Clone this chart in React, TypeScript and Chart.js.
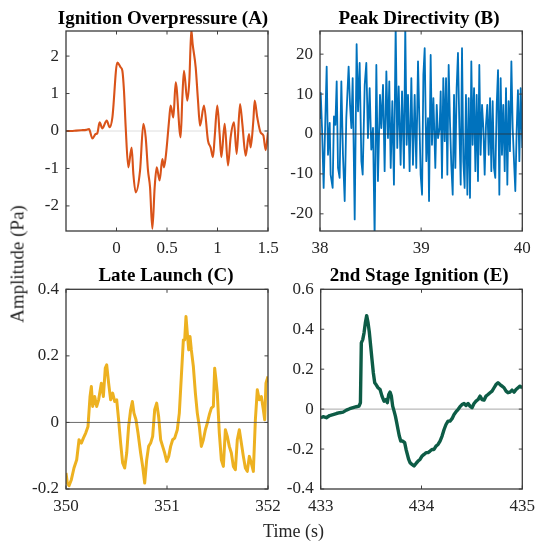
import React, { useEffect, useRef } from 'react';
import { Chart, registerables } from 'chart.js';

Chart.register(...registerables);

const FONT = "'Liberation Serif', 'Times New Roman', Times, serif";

// ---------- Panel A: Ignition Overpressure ----------
const timeA = [-0.5, -0.45, -0.4, -0.35, -0.3, -0.272, -0.239, -0.206, -0.19, -0.167, -0.14, -0.097, -0.068, -0.041, 0.008, 0.041, 0.058, 0.074, 0.091, 0.117, 0.15, 0.167, 0.19, 0.233, 0.266, 0.289, 0.312, 0.332, 0.355, 0.378, 0.398, 0.427, 0.454, 0.47, 0.487, 0.503, 0.523, 0.536, 0.563, 0.586, 0.635, 0.652, 0.668, 0.701, 0.721, 0.741, 0.754, 0.784, 0.807, 0.827, 0.866, 0.906, 0.932, 0.955, 0.972, 0.998, 1.021, 1.038, 1.071, 1.104, 1.13, 1.163, 1.19, 1.223, 1.246, 1.279, 1.312, 1.328, 1.355, 1.368, 1.394, 1.427, 1.454, 1.477, 1.5];
const ampA = [0, 0.0, 0.01, 0.02, 0.03, 0.05, -0.2, -0.08, -0.06, 0.23, 0.07, 0.28, 0.1, 0.36, 1.83, 1.7, 1.61, 1.08, 0.1, -0.97, -0.44, -1.15, -1.64, -1.06, 0.19, -0.17, -1.06, -1.5, -2.61, -1.5, -0.97, -1.32, -0.75, -0.97, -0.7, -0.26, 0.36, 0.68, 0.36, 1.3, -0.17, 0.9, 1.61, 0.81, 1.34, 2.68, 2.32, 1.7, 0.81, 0.14, 0.68, -0.26, -0.44, -0.7, -0.17, 0.68, -0.08, -0.7, 0.19, -0.92, -0.17, 0.23, -0.61, 0.72, 0.19, -0.66, -0.08, -0.44, 0.28, 0.81, 0.36, -0.04, -0.12, -0.51, -0.04];
const xTicksA = [0, 0.5, 1, 1.5];
const yTicksA = [-2, -1, 0, 1, 2];

// ---------- Panel B: Peak Directivity ----------
const timeB = [38.0, 38.007, 38.02, 38.036, 38.053, 38.066, 38.079, 38.096, 38.105, 38.125, 38.138, 38.152, 38.165, 38.178, 38.194, 38.211, 38.227, 38.244, 38.26, 38.283, 38.297, 38.31, 38.323, 38.343, 38.362, 38.376, 38.392, 38.409, 38.422, 38.442, 38.458, 38.474, 38.491, 38.507, 38.524, 38.54, 38.557, 38.573, 38.593, 38.606, 38.623, 38.639, 38.656, 38.672, 38.685, 38.699, 38.715, 38.731, 38.748, 38.764, 38.778, 38.797, 38.811, 38.83, 38.843, 38.857, 38.87, 38.886, 38.903, 38.919, 38.936, 38.952, 38.969,
  38.995, 39.009, 39.022, 39.035, 39.051, 39.068, 39.078, 39.094, 39.107, 39.121, 39.14, 39.154, 39.167, 39.183, 39.193, 39.206, 39.219, 39.233, 39.246, 39.259, 39.272, 39.285, 39.298, 39.312, 39.325, 39.338, 39.351, 39.364, 39.378, 39.391, 39.404, 39.417, 39.43, 39.443, 39.457, 39.47, 39.483, 39.496, 39.509, 39.523, 39.536, 39.549, 39.562, 39.575, 39.588, 39.602, 39.615, 39.628, 39.641, 39.654, 39.668, 39.681, 39.694, 39.707, 39.72, 39.733, 39.747, 39.76, 39.773, 39.786, 39.799, 39.812, 39.826, 39.839, 39.852, 39.865, 39.878, 39.892, 39.905, 39.918, 39.931, 39.944, 39.957, 39.971, 39.984, 40.0];
const ampB = [4, 10.3, 1.5, -13.5, 4, 16.9, -5.2, 2.8, -10.2, -13.5, 4.4, 2.3, 13.2, -8.5, -11, 13.2, -5.2, -16.8, 4, 16.9, 7.3, 1.5, 14, -21.4, 22.5, 5.7, 17.8, -6.8, -10.2, 12.3, 17.8, -1, 11.5, -3.9, 1.5, -26, 17.3, -11.8, 9.8, 1.5, 12.3, -9.3, 15.7, -1, 13.2, -8.5, 8.2, -12.7, 27, -3.5, 11.9, -7.7, 10.7, -8.5, 27, -2.7, 9.8, -9.3, 14, -7.7, 9.8, -8.5, 18.2,
  -10.2, -15.2, 14.8, 21.5, -6.8, 4, -16.8, 19.8, -2.7, 9, -8.5, 7.3, -1, 1.5, 10.7, -11, 14, -1.8, 14, -10.2, 17.3, 3.2, -7.7, -15.2, 9.8, -8.5, 11.5, 20.3, 1.5, -12.7, 21.5, -6.8, -13.5, 9.8, -15.2, 9, -16, 18.2, -2.7, 11.5, -9.3, 9.8, -11.8, 17.3, -5.2, 7.3, 1.5, -10.2, 2.3, 7.3, -5.2, 9, -9.3, 8.2, -8.5, -11, 7.3, 16, -15.2, 14, -5.2, 7.3, -9.3, 11.5, -12.7, 8.2, -4.3, 18.2, 1.5, -6.8, -14.3, 0.7, 11, -6.8, 11.5, -3.5];
const xTicksB = [38, 39, 40];
const yTicksB = [-20, -10, 0, 10, 20];

// ---------- Panel C: Late Launch ----------
const timeC = [350.0, 350.013, 350.03, 350.053, 350.079, 350.106, 350.129, 350.152, 350.172, 350.195, 350.218, 350.238, 350.251, 350.264, 350.284, 350.304, 350.323, 350.35, 350.37, 350.389, 350.403, 350.422, 350.442, 350.462, 350.482, 350.502, 350.521, 350.541, 350.561, 350.581, 350.601, 350.62, 350.64, 350.657, 350.673, 350.693, 350.713, 350.739, 350.759, 350.779, 350.799, 350.818, 350.838, 350.858, 350.878, 350.898, 350.917, 350.937, 350.957, 350.977, 350.997, 351.017, 351.036, 351.056, 351.076, 351.102, 351.122, 351.142, 351.162, 351.175, 351.188, 351.201, 351.215, 351.228, 351.241, 351.261, 351.281, 351.3, 351.32, 351.34, 351.36, 351.38, 351.399, 351.419, 351.439, 351.459, 351.472, 351.485, 351.498, 351.518, 351.538, 351.558, 351.578, 351.597, 351.617, 351.637, 351.657, 351.677, 351.696, 351.716, 351.736, 351.756, 351.776, 351.795, 351.815, 351.835, 351.855, 351.875, 351.894, 351.914, 351.934, 351.954, 351.967, 351.98, 352.0];
const ampC = [-0.152, -0.182, -0.19, -0.172, -0.137, -0.112, -0.052, -0.062, -0.047, -0.032, -0.012, 0.078, 0.108, 0.048, 0.078, 0.048, 0.068, 0.118, 0.078, 0.163, 0.173, 0.118, 0.068, 0.088, 0.063, 0.068, 0.008, -0.062, -0.122, -0.137, -0.092, -0.012, 0.038, 0.063, 0.028, 0.008, -0.032, -0.092, -0.132, -0.182, -0.112, -0.072, -0.062, -0.042, 0.038, 0.058, 0.018, -0.052, -0.072, -0.092, -0.117, -0.102, -0.072, -0.052, -0.047, -0.022, 0.028, 0.138, 0.248, 0.248, 0.318, 0.268, 0.218, 0.258, 0.218, 0.168, 0.088, 0.028, -0.012, -0.072, -0.052, -0.022, -0.002, 0.023, 0.043, 0.048, 0.163, 0.128, 0.088, -0.032, -0.112, -0.132, -0.022, -0.042, -0.072, -0.092, -0.132, -0.142, -0.052, -0.022, -0.062, -0.102, -0.137, -0.147, -0.102, -0.122, -0.147, 0.008, 0.098, 0.068, 0.078, 0.038, 0.008, 0.118, 0.138];
const xTicksC = [350, 351, 352];
const yTicksC = [-0.2, 0, 0.2, 0.4];

// ---------- Panel E: 2nd Stage Ignition ----------
const timeE = [433.0, 433.023, 433.056, 433.089, 433.122, 433.155, 433.188, 433.222, 433.255, 433.288, 433.321, 433.354, 433.38, 433.394, 433.403, 433.417, 433.43, 433.443, 433.456, 433.47, 433.483, 433.496, 433.509, 433.522, 433.536, 433.549, 433.569, 433.589, 433.608, 433.628, 433.648, 433.661, 433.675, 433.688, 433.701, 433.714, 433.728, 433.741, 433.754, 433.767, 433.78, 433.794, 433.813, 433.833, 433.847, 433.86, 433.873, 433.886, 433.906, 433.926, 433.946, 433.966, 433.985, 434.005, 434.025, 434.045, 434.065, 434.085, 434.104, 434.124, 434.144, 434.164, 434.184, 434.204, 434.224, 434.243, 434.263, 434.283, 434.303, 434.323, 434.343, 434.362, 434.382, 434.402, 434.422, 434.442, 434.462, 434.481, 434.501, 434.521, 434.541, 434.561, 434.581, 434.601, 434.62, 434.64, 434.66, 434.68, 434.7, 434.72, 434.739, 434.759, 434.779, 434.799, 434.819, 434.839, 434.858, 434.878, 434.898, 434.918, 434.938, 434.958, 434.977, 435.0];
const ampE = [-0.043, -0.038, -0.043, -0.032, -0.027, -0.022, -0.018, -0.015, -0.005, 0.002, 0.007, 0.012, 0.015, 0.032, 0.332, 0.348, 0.382, 0.432, 0.468, 0.432, 0.382, 0.315, 0.248, 0.182, 0.132, 0.123, 0.107, 0.098, 0.065, 0.04, 0.048, 0.032, 0.073, 0.085, 0.065, 0.015, -0.01, -0.035, -0.068, -0.102, -0.135, -0.16, -0.16, -0.168, -0.202, -0.227, -0.252, -0.268, -0.277, -0.285, -0.272, -0.26, -0.252, -0.235, -0.227, -0.218, -0.218, -0.21, -0.202, -0.202, -0.185, -0.177, -0.16, -0.135, -0.102, -0.077, -0.06, -0.06, -0.048, -0.027, -0.013, -0.002, 0.012, 0.023, 0.028, 0.018, 0.028, 0.015, 0.007, 0.028, 0.04, 0.048, 0.065, 0.048, 0.045, 0.065, 0.073, 0.082, 0.09, 0.107, 0.123, 0.132, 0.123, 0.115, 0.107, 0.09, 0.082, 0.085, 0.095, 0.085, 0.098, 0.107, 0.115, 0.107];
const xTicksE = [433, 434, 435];
const yTicksE = [-0.4, -0.2, 0, 0.2, 0.4, 0.6];

type Spec = {
  title: string;
  time: number[];
  amp: number[];
  xTicks: number[];
  yTicks: number[];
  xMin: number; xMax: number; yMin: number; yMax: number;
  color: string; lw: number; smooth: boolean;
  zeroColor: string; zeroTop: boolean;
  left: number; top: number; w: number; h: number;
  areaLeft: number; areaRight: number; areaTop: number;
  titleCenter: number; titleBaseline: number;
};

// geometry is in page pixels; converted to canvas-local below
const specs: Spec[] = [
  { title: 'Ignition Overpressure (A)', time: timeA, amp: ampA, xTicks: xTicksA, yTicks: yTicksA,
    xMin: -0.5, xMax: 1.5, yMin: -2.67, yMax: 2.67, color: '#D95319', lw: 2.1, smooth: true,
    zeroColor: '#dedede', zeroTop: false,
    left: 0, top: 0, w: 300, h: 261, areaLeft: 66, areaRight: 268, areaTop: 31,
    titleCenter: 163, titleBaseline: 24 },
  { title: 'Peak Directivity (B)', time: timeB, amp: ampB, xTicks: xTicksB, yTicks: yTicksB,
    xMin: 38, xMax: 40, yMin: -24.3, yMax: 25.8, color: '#0072BD', lw: 1.8, smooth: false,
    zeroColor: 'rgba(45,45,45,0.75)', zeroTop: true,
    left: 270, top: 0, w: 300, h: 261, areaLeft: 320, areaRight: 522.3, areaTop: 31,
    titleCenter: 419, titleBaseline: 24 },
  { title: 'Late Launch (C)', time: timeC, amp: ampC, xTicks: xTicksC, yTicks: yTicksC,
    xMin: 350, xMax: 352, yMin: -0.2, yMax: 0.4, color: '#EDB120', lw: 3, smooth: false,
    zeroColor: 'rgba(90,90,90,0.9)', zeroTop: true,
    left: 0, top: 260, w: 300, h: 259.3, areaLeft: 66, areaRight: 268, areaTop: 289.3,
    titleCenter: 166, titleBaseline: 281 },
  { title: '2nd Stage Ignition (E)', time: timeE, amp: ampE, xTicks: xTicksE, yTicks: yTicksE,
    xMin: 433, xMax: 435, yMin: -0.4, yMax: 0.6, color: '#0D5C46', lw: 3.4, smooth: false,
    zeroColor: '#a8a8a8', zeroTop: false,
    left: 270, top: 260, w: 300, h: 259, areaLeft: 320.7, areaRight: 522.3, areaTop: 289.3,
    titleCenter: 419.2, titleBaseline: 281 },
];

function drawZero(chart: any, color: string) {
  const { ctx, chartArea: a, scales } = chart;
  const y = scales.y.getPixelForValue(0);
  ctx.save();
  ctx.strokeStyle = color;
  ctx.lineWidth = 1;
  ctx.beginPath();
  ctx.moveTo(a.left, y);
  ctx.lineTo(a.right, y);
  ctx.stroke();
  ctx.restore();
}

const framePlugin = {
  id: 'matlabFrame',
  beforeDatasetsDraw(chart: any) {
    const o = chart.options.plugins.matlabFrame;
    if (o && !o.zeroTop) drawZero(chart, o.zeroColor);
  },
  afterDatasetsDraw(chart: any) {
    const o = chart.options.plugins.matlabFrame;
    if (o && o.zeroTop) drawZero(chart, o.zeroColor);
  },
  afterDraw(chart: any) {
    const o = chart.options.plugins.matlabFrame;
    const { ctx, chartArea: a, scales } = chart;
    const L = 3.5;
    ctx.save();
    ctx.strokeStyle = '#404040';
    ctx.lineWidth = 1;
    ctx.beginPath();
    scales.x.ticks.forEach((t: any) => {
      const px = scales.x.getPixelForValue(t.value);
      ctx.moveTo(px, a.bottom); ctx.lineTo(px, a.bottom - L);
      ctx.moveTo(px, a.top); ctx.lineTo(px, a.top + L);
    });
    scales.y.ticks.forEach((t: any) => {
      const py = scales.y.getPixelForValue(t.value);
      ctx.moveTo(a.left, py); ctx.lineTo(a.left + L, py);
      ctx.moveTo(a.right, py); ctx.lineTo(a.right - L, py);
    });
    ctx.stroke();
    ctx.lineWidth = 1.3;
    ctx.strokeStyle = '#3a3a3a';
    ctx.strokeRect(a.left, a.top, a.right - a.left, a.bottom - a.top);
    // panel title (MATLAB centres it slightly left of the axes centre)
    if (o && o.title) {
      ctx.fillStyle = '#000000';
      ctx.font = `bold 19px ${FONT}`;
      ctx.textAlign = 'center';
      ctx.textBaseline = 'alphabetic';
      ctx.fillText(o.title, o.titleX, o.titleY);
    }
    ctx.restore();
  },
};

function Panel({ spec }: { spec: Spec }) {
  const ref = useRef<HTMLCanvasElement>(null);
  useEffect(() => {
    const tickFont = { family: FONT, size: 17 };
    const aL = spec.areaLeft - spec.left;
    const aR = spec.areaRight - spec.left;
    const aT = spec.areaTop - spec.top;
    const chart = new Chart(ref.current as HTMLCanvasElement, {
      type: 'line',
      data: {
        datasets: [
          {
            data: spec.time.map((t, i) => ({ x: t, y: spec.amp[i] })),
            borderColor: spec.color,
            borderWidth: spec.lw,
            borderJoinStyle: 'round',
            pointRadius: 0,
            fill: false,
            tension: spec.smooth ? 0.4 : 0,
            cubicInterpolationMode: spec.smooth ? 'monotone' : 'default',
            clip: 0,
          } as any,
        ],
      },
      options: {
        responsive: false,
        animation: false,
        devicePixelRatio: 1,
        events: [],
        layout: { padding: { left: 0, right: spec.w - aR, top: aT, bottom: 0 } },
        plugins: {
          legend: { display: false },
          tooltip: { enabled: false },
          title: { display: false },
          matlabFrame: {
            zeroColor: spec.zeroColor, zeroTop: spec.zeroTop, title: spec.title,
            titleX: spec.titleCenter - spec.left, titleY: spec.titleBaseline - spec.top,
          },
        } as any,
        scales: {
          x: {
            type: 'linear',
            min: spec.xMin,
            max: spec.xMax,
            afterBuildTicks: (s: any) => { s.ticks = spec.xTicks.map((v) => ({ value: v })); },
            afterFit: (s: any) => { s.height = 30; },
            grid: { display: false, drawTicks: false },
            border: { display: false },
            ticks: {
              padding: 7.5, color: '#262626', font: tickFont, maxRotation: 0, minRotation: 0,
              autoSkip: false, callback: (v: any) => String(v),
            },
          },
          y: {
            type: 'linear',
            min: spec.yMin,
            max: spec.yMax,
            afterBuildTicks: (s: any) => { s.ticks = spec.yTicks.map((v) => ({ value: v })); },
            afterFit: (s: any) => { s.width = aL; },
            grid: { display: false, drawTicks: false },
            border: { display: false },
            ticks: {
              padding: 7, color: '#262626', font: tickFont, autoSkip: false,
              callback: (v: any) => String(v),
            },
          },
        },
      } as any,
      plugins: [framePlugin as any],
    });
    return () => chart.destroy();
  }, [spec]);
  return (
    <canvas
      ref={ref}
      width={spec.w}
      height={spec.h}
      style={{ position: 'absolute', left: spec.left, top: spec.top, width: spec.w, height: spec.h }}
    />
  );
}

export default function App() {
  return (
    <div
      style={{
        position: 'absolute', left: 0, top: 0, width: 537, height: 545,
        overflow: 'hidden', background: '#ffffff',
      }}
    >
      {specs.map((s) => (
        <Panel key={s.title} spec={s} />
      ))}
      <div
        style={{
          position: 'absolute', left: 17.1, top: 264, transform: 'translate(-50%, -50%) rotate(-90deg)',
          fontFamily: FONT, fontSize: 19, lineHeight: '19px', whiteSpace: 'nowrap', color: '#262626',
        }}
      >
        Amplitude (Pa)
      </div>
      <div
        style={{
          position: 'absolute', left: 293.5, top: 522.2, transform: 'translateX(-50%)',
          fontFamily: FONT, fontSize: 18, lineHeight: '18px', whiteSpace: 'nowrap', color: '#262626',
        }}
      >
        Time (s)
      </div>
    </div>
  );
}
